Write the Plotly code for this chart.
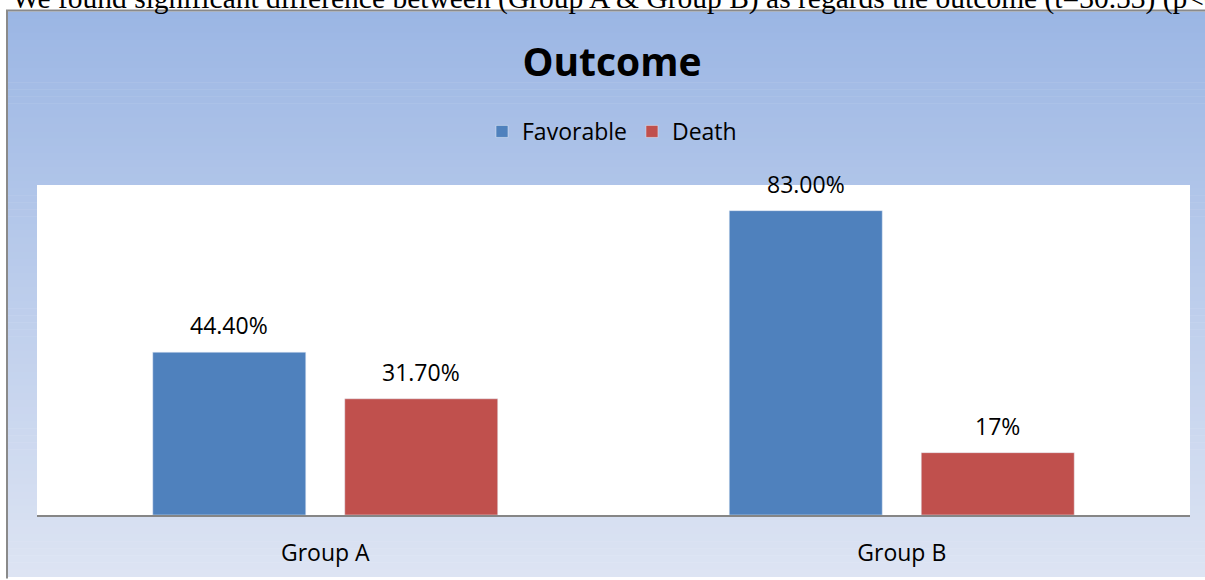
import plotly.graph_objects as go

categories = ["Group A", "Group B"]
favorable = [0.444, 0.83]
death = [0.317, 0.17]
favorable_labels = ["44.40%", "83.00%"]
death_labels = ["31.70%", "17%"]
series_names = ["Favorable", "Death"]
title_text = "Outcome"
caption_text = "We found significant difference between (Group A & Group B) as regards the outcome (t=30.53) (p<0.001)"

W, H = 1205, 580
ML, MR, MT, MB = 37, 15, 185, 62
PW = W - ML - MR
PH = H - MT - MB

def px_x(px):
    return (px - ML) / PW

def px_y(py):
    return (H - MB - py) / PH

FONT = "Open Sans"
BLUE = "#4F81BD"
RED = "#C0504D"

fig = go.Figure()
fig.add_trace(go.Bar(name=series_names[0], x=categories, y=favorable, marker_color=BLUE))
fig.add_trace(go.Bar(name=series_names[1], x=categories, y=death, marker_color=RED))

shapes = []
# gradient background inside the frame
top_c = (155, 182, 228)
bot_c = (221, 228, 243)
y0p, y1p = 10, H
n = 80
for i in range(n):
    a = y0p + (y1p - y0p) * i / n
    b = y0p + (y1p - y0p) * (i + 1) / n
    t = (i + 0.5) / n
    c = tuple(round(top_c[k] + (bot_c[k] - top_c[k]) * t) for k in range(3))
    shapes.append(dict(type="rect", xref="paper", yref="paper", layer="below",
                       x0=px_x(8), x1=px_x(W + 2), y0=px_y(b + 0.5), y1=px_y(a),
                       line=dict(width=0), fillcolor="rgb(%d,%d,%d)" % c))
# white plot area
shapes.append(dict(type="rect", xref="paper", yref="paper", layer="below",
                   x0=0, x1=1, y0=0, y1=1, line=dict(width=0), fillcolor="white"))
# frame border (left and top)
shapes.append(dict(type="line", xref="paper", yref="paper", layer="below",
                   x0=px_x(7), x1=px_x(7), y0=px_y(H + 2), y1=px_y(9),
                   line=dict(color="#8A8A8A", width=2)))
shapes.append(dict(type="line", xref="paper", yref="paper", layer="below",
                   x0=px_x(6), x1=px_x(W + 2), y0=px_y(9), y1=px_y(9),
                   line=dict(color="#8A8A8A", width=2)))

annotations = []
for cat, v, lab in zip(categories, favorable, favorable_labels):
    annotations.append(dict(x=cat, y=v, text=lab, showarrow=False, xshift=-96,
                            yanchor="middle", yshift=27,
                            font=dict(family=FONT, size=23, color="#000000")))
for cat, v, lab in zip(categories, death, death_labels):
    annotations.append(dict(x=cat, y=v, text=lab, showarrow=False, xshift=96,
                            yanchor="middle", yshift=27,
                            font=dict(family=FONT, size=23, color="#000000")))
annotations.append(dict(xref="paper", yref="paper", x=px_x(10), y=px_y(7),
                        xanchor="left", yanchor="bottom", yshift=-8,
                        text=caption_text, showarrow=False,
                        font=dict(family="Liberation Serif", size=29.5, color="#000000")))

fig.update_layout(
    width=W, height=H,
    margin=dict(l=ML, r=MR, t=MT, b=MB, pad=0),
    paper_bgcolor="white",
    plot_bgcolor="white",
    barmode="group",
    bargap=0.334,
    bargroupgap=0.203,
    title=dict(text="<b>%s</b>" % title_text, x=px_x(612), xref="paper",
               y=1 - 62 / H, yref="container", xanchor="center", yanchor="middle",
               font=dict(family=FONT, size=39, color="#000000")),
    legend=dict(orientation="h", x=px_x(612), xanchor="center", y=px_y(131),
                yanchor="middle", bgcolor="rgba(0,0,0,0)",
                font=dict(family=FONT, size=23, color="#000000"), traceorder="normal"),
    xaxis=dict(showgrid=False, showline=True, linecolor="#868686", linewidth=2,
               ticks="", tickfont=dict(family=FONT, size=23, color="#000000"),
               ticklabelstandoff=16, zeroline=False),
    yaxis=dict(range=[0, 0.9], visible=False, showgrid=False, zeroline=False),
    shapes=shapes,
    annotations=annotations,
)

fig.write_html("out.html")
